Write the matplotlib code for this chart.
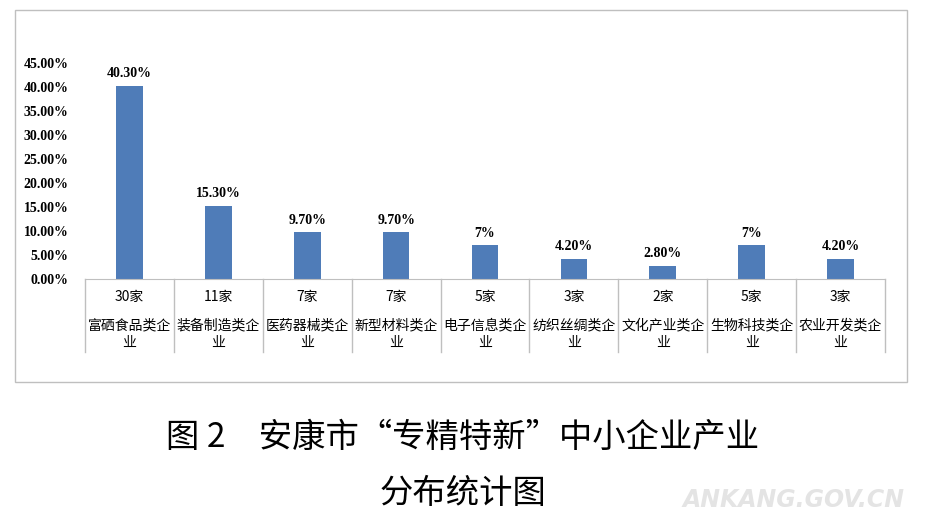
import matplotlib
matplotlib.use("Agg")
import matplotlib.pyplot as plt
from matplotlib.patches import Rectangle

categories = ["富硒食品类企业", "装备制造类企业", "医药器械类企业", "新型材料类企业", "电子信息类企业",
              "纺织丝绸类企业", "文化产业类企业", "生物科技类企业", "农业开发类企业"]
counts = ["30家", "11家", "7家", "7家", "5家", "3家", "2家", "5家", "3家"]
values = [40.30, 15.30, 9.70, 9.70, 7, 4.20, 2.80, 7, 4.20]
value_labels = ["40.30%", "15.30%", "9.70%", "9.70%", "7%", "4.20%", "2.80%", "7%", "4.20%"]
yticks = [0, 5, 10, 15, 20, 25, 30, 35, 40, 45]

W, H = 926, 529
fig = plt.figure(figsize=(W/100, H/100), dpi=100)
cjk = ['Noto Sans CJK SC', 'DejaVu Sans']
serif = ['Liberation Serif', 'Noto Sans CJK SC']

# outer frame
fig.patches.append(Rectangle((15/W, 1-382/H), 892/W, 372/H, transform=fig.transFigure,
                             fill=False, edgecolor='#BFBFBF', linewidth=1))

ax = fig.add_axes([85/W, 1-279/H, 800/W, (279-63)/H])
x = list(range(len(values)))
ax.bar(x, values, width=0.3, color='#4F7CB8')
ax.set_xlim(-0.5, len(values)-0.5)
ax.set_ylim(0, 45)
ax.set_yticks(yticks)
ax.set_yticklabels([f"{v:.2f}%" for v in yticks], fontfamily=serif, fontsize=10, fontweight='bold')
ax.tick_params(axis='y', length=0, pad=12)
ax.set_xticks([])
for s in ['top', 'right', 'left']:
    ax.spines[s].set_visible(False)
ax.spines['bottom'].set_color('#BFBFBF')
for xi, v, lab in zip(x, values, value_labels):
    ax.text(xi, v + 1.2, lab, ha='center', va='bottom', fontfamily=serif, fontsize=10, fontweight='bold')

# category table below
trans = ax.get_xaxis_transform()
px = (279 - 63) / 45  # pixels per unit
def yax(py):
    return (279 - py) / (279 - 63)
for i in range(len(values) + 1):
    ax.plot([i - 0.5, i - 0.5], [0, yax(352)], transform=trans, color='#BFBFBF', lw=1, clip_on=False)
for xi, c, name in zip(x, counts, categories):
    ax.text(xi, yax(297), c, transform=trans, ha='center', va='center', fontfamily=cjk, fontsize=10, clip_on=False)
    ax.text(xi, yax(325), name[:6], transform=trans, ha='center', va='center', fontfamily=cjk, fontsize=10, clip_on=False)
    ax.text(xi, yax(343), name[6:], transform=trans, ha='center', va='center', fontfamily=cjk, fontsize=10, clip_on=False)

fig.text(463/W, 1-437/H, "图 2　安康市“专精特新”中小企业产业", ha='center', va='center',
         fontfamily=cjk, fontsize=24)
fig.text(463/W, 1-493/H, "分布统计图", ha='center', va='center', fontfamily=cjk, fontsize=24)
fig.text(905/W, 1-500/H, "ANKANG.GOV.CN", ha='right', va='center', fontsize=17, fontweight='bold',
         style='italic', color='#E4E4E4', fontfamily='DejaVu Sans')

fig.savefig("out.png", dpi=100)
